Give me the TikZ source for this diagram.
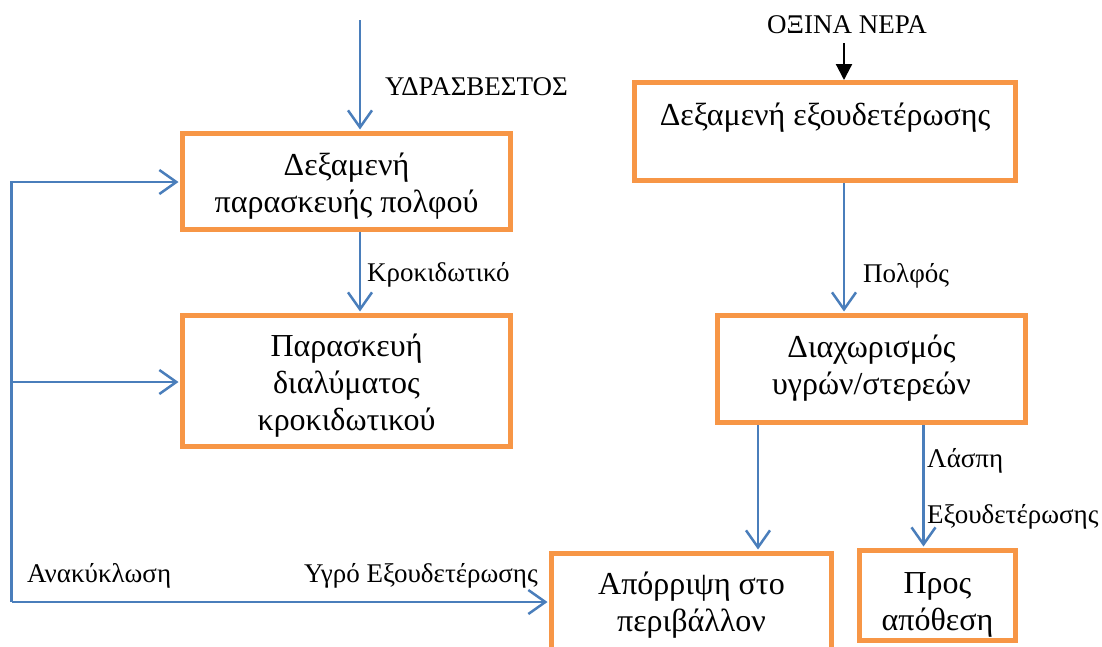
\documentclass[tikz,border=0pt]{standalone}
\usepackage{fontspec}
\setmainfont{Liberation Serif}
\usetikzlibrary{arrows.meta}
\definecolor{boxorange}{HTML}{F79646}
\definecolor{flowblue}{HTML}{4A7EBB}
\begin{document}
\begin{tikzpicture}[x=1pt,y=-1pt,
  procbox/.style={draw=boxorange, line width=5pt, inner sep=0pt},
  boxtext/.style={font=\fontsize{32}{37}\selectfont, align=center, inner sep=0pt},
  lbl/.style={font=\fontsize{27}{31}\selectfont, inner sep=0pt, anchor=base west},
  flow/.style={draw=flowblue, line width=2.5pt, shorten >=1.5pt, -{Straight Barb[length=17pt,width=24pt]}},
  feed/.style={draw=black, line width=2.2pt, -{Triangle[length=16pt,width=16pt]}}]
\useasboundingbox (0,0) rectangle (1102,646);
\clip (0,0) rectangle (1102,646);
% boxes
\node[procbox, minimum width=328pt, minimum height=96pt] (b1) at (346.5,181.5) {};
\node[procbox, minimum width=328pt, minimum height=131pt] (b2) at (346.5,381) {};
\node[procbox, minimum width=381pt, minimum height=98pt] (b3) at (825,131.5) {};
\node[procbox, minimum width=308pt, minimum height=107pt] (b4) at (871.5,369) {};
\node[procbox, minimum width=280pt, minimum height=140pt] (b5) at (691.5,623.5) {};
\node[procbox, minimum width=156pt, minimum height=90pt] (b6) at (937.5,595.5) {};
% box texts
\node[boxtext] (t1) at (346.5,186) {Δεξαμενή\\παρασκευής πολφού};
\node[boxtext] (t2) at (346.5,386) {Παρασκευή\\διαλύματος\\κροκιδωτικού};
\node[boxtext] (t3) at (825,118) {Δεξαμενή εξουδετέρωσης};
\node[boxtext] (t4) at (871.5,368) {Διαχωρισμός\\υγρών/στερεών};
\node[boxtext] (t5) at (691.5,605) {Απόρριψη στο\\περιβάλλον};
\node[boxtext] (t6) at (937.5,605) {Προς\\απόθεση};
% labels
\node[lbl] (l1) at (385,95) {ΥΔΡΑΣΒΕΣΤΟΣ};
\node[lbl] (l2) at (367,281) {Κροκιδωτικό};
\node[lbl] (l3) at (863,282) {Πολφός};
\node[lbl] (l4) at (927,467) {Λάσπη};
\node[lbl] (l5) at (927,523) {Εξουδετέρωσης};
\node[lbl] (l6) at (27,582) {Ανακύκλωση};
\node[lbl, anchor=base east] (l7) at (538,582) {Υγρό Εξουδετέρωσης};
\node[lbl, anchor=base] (l8) at (847,33) {ΟΞΙΝΑ ΝΕΡΑ};
% coordinates
\coordinate (src1) at (360,20);
\coordinate (src3) at (844,43);
\coordinate (L1) at (11.5,182);
\coordinate (L2) at (11.5,382);
\coordinate (L3) at (11.5,602);
\coordinate (o5) at (758,0);
\coordinate (o6) at (923.5,0);
% connectors
\draw[flow] (src1) -- (src1 |- b1.north);
\draw[flow] (b1.south -| src1) -- (b2.north -| src1);
\draw[flow] (L3) -- (L1) -- (L1 -| b1.west);
\draw[flow] (L2) -- (L2 -| b2.west);
\draw[flow] (L3) -- (L3 -| b5.west);
\draw[feed] (src3) -- (src3 |- b3.north);
\draw[flow] (b3.south -| src3) -- (b4.north -| src3);
\draw[flow] (b4.south -| o5) -- (b5.north -| o5);
\draw[flow] (b4.south -| o6) -- (b6.north -| o6);
\end{tikzpicture}
\end{document}
